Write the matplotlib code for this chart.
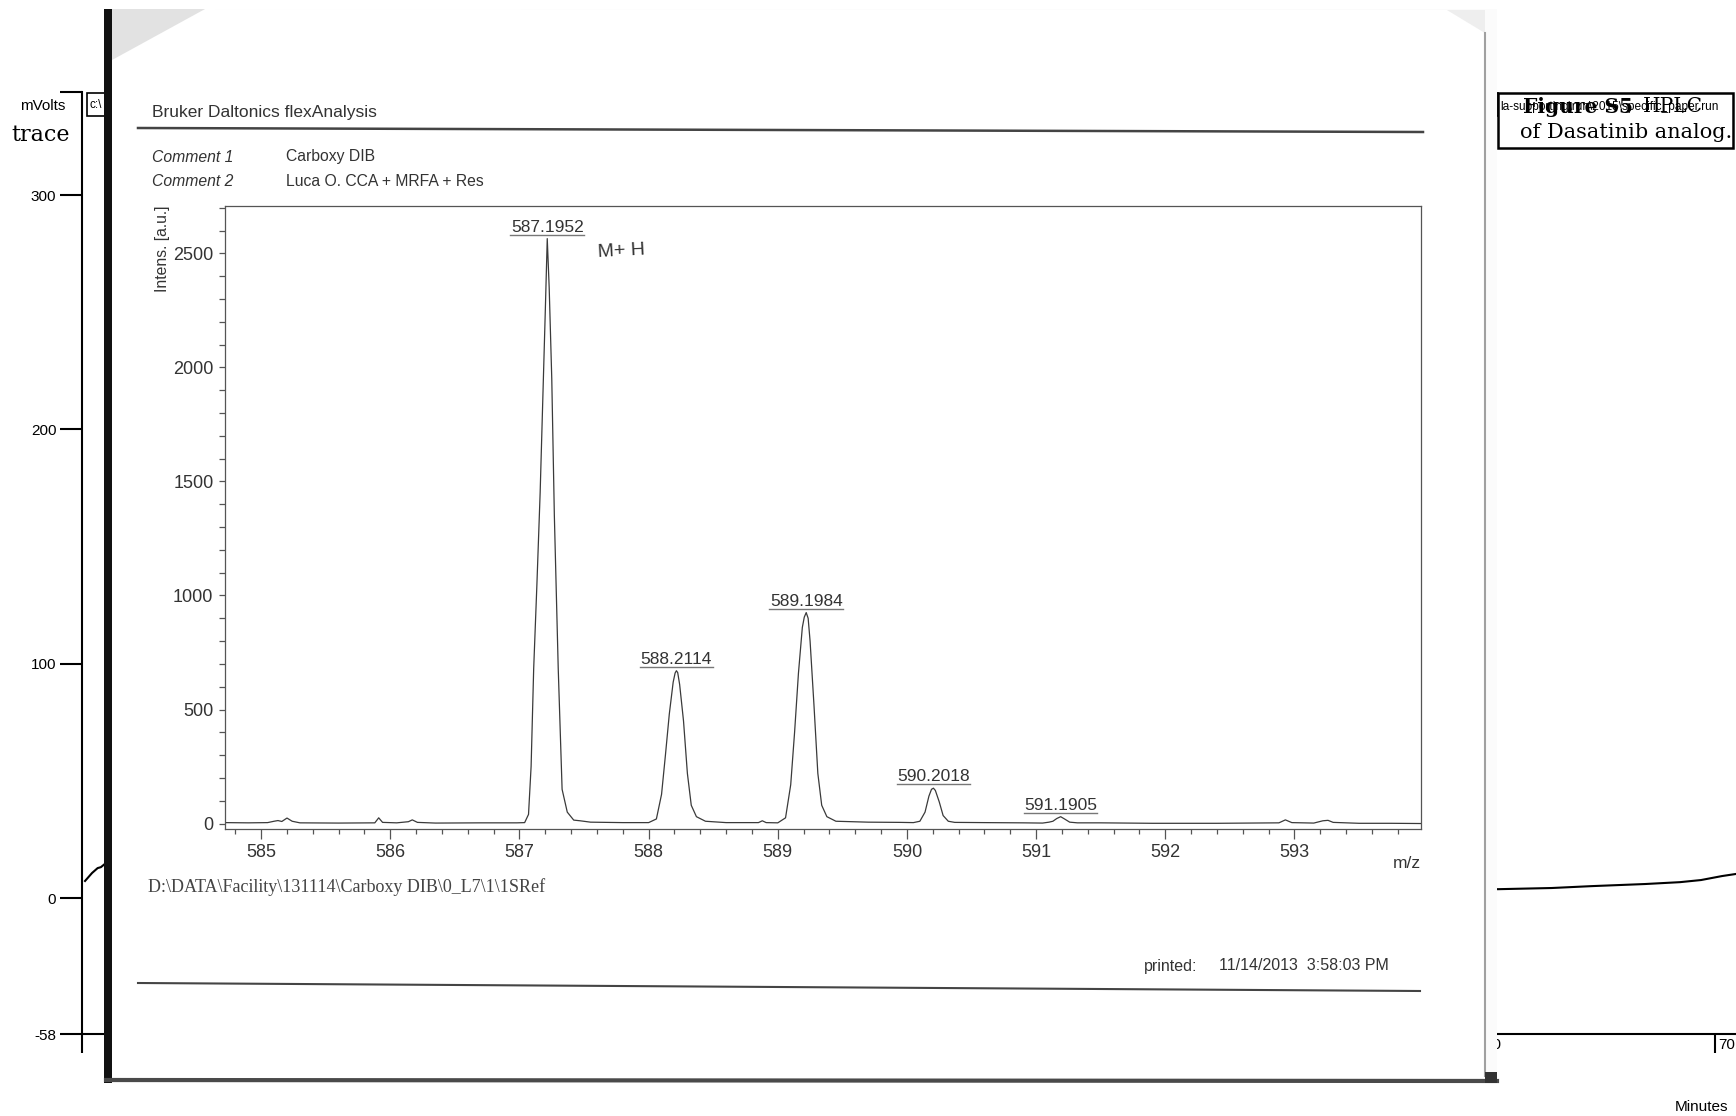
#!/usr/bin/env python3
# Scan of a MALDI spectrum (Bruker flexAnalysis print) lying over an HPLC trace.
import matplotlib
matplotlib.use("Agg")
import matplotlib.pyplot as plt
from matplotlib.patches import Rectangle, Polygon
from matplotlib.ticker import MultipleLocator
from matplotlib.transforms import offset_copy

plt.rcParams["font.family"] = ["Liberation Sans", "DejaVu Sans"]

W, H = 1736, 1116
SERIF = ["DejaVu Serif", "Liberation Serif"]

# --- HPLC trace (background chart) ---
HPLC_T = [0.13, 0.43, 0.67, 0.81, 1.03, 2.0,
          60.7, 63.0, 64.7, 67.0, 68.5, 69.4, 70.3, 70.9]
HPLC_MV = [7.3, 10.7, 12.8, 13.2, 15.0, 16.0,
           3.8, 4.3, 5.1, 6.0, 6.8, 7.7, 9.4, 10.3]
HPLC_YTICKS = [-58, 0, 100, 200, 300, 344]
HPLC_YLABELS = ["-58", "0", "100", "200", "300", ""]
HPLC_XTICKS = [0, 10, 20, 30, 40, 50, 60, 70]

# --- mass spectrum ---
MZ = [584.72, 584.90, 585.05, 585.10, 585.13, 585.16, 585.20, 585.24, 585.30, 585.60,
      585.88, 585.91, 585.94, 586.05, 586.14, 586.17, 586.21, 586.35, 586.70, 586.98,
      587.04, 587.07, 587.09, 587.11, 587.135, 587.16, 587.18, 587.20, 587.215, 587.23,
      587.25, 587.27, 587.30, 587.33, 587.37, 587.42, 587.47, 587.55, 587.80,
      588.00, 588.06, 588.10, 588.13, 588.16, 588.19, 588.205, 588.215, 588.225, 588.24,
      588.27, 588.30, 588.33, 588.37, 588.44, 588.60, 588.85, 588.88, 588.91,
      589.00, 589.06, 589.10, 589.13, 589.16, 589.19, 589.205, 589.22, 589.235, 589.25,
      589.28, 589.31, 589.34, 589.38, 589.45, 589.70, 589.95,
      590.05, 590.10, 590.14, 590.17, 590.19, 590.205, 590.22, 590.25, 590.28, 590.32,
      590.37, 590.60, 590.90,
      591.05, 591.10, 591.13, 591.16, 591.19, 591.22, 591.26, 591.32, 591.50, 591.90,
      592.40, 592.88, 592.93, 592.98, 593.15, 593.22, 593.26, 593.30, 593.50, 593.75, 593.98]
INTENS = [4, 3, 4, 10, 13, 9, 24, 10, 3, 2,
          3, 25, 5, 3, 8, 16, 5, 2, 3, 3,
          4, 40, 250, 680, 1050, 1450, 1850, 2250, 2565, 2350,
          1950, 1350, 680, 150, 50, 15, 12, 6, 4,
          4, 20, 128, 300, 480, 620, 660, 670, 662, 610,
          450, 220, 80, 30, 10, 4, 4, 12, 4,
          3, 25, 170, 400, 660, 860, 905, 925, 900, 800,
          520, 220, 80, 30, 10, 6, 5,
          4, 10, 50, 120, 150, 155, 145, 95, 35, 10,
          5, 4, 3,
          2, 6, 10, 22, 30, 20, 6, 3, 3, 1,
          1, 3, 16, 4, 2, 12, 14, 5, 1, 1, 0]
PEAK_LABELS = ["587.1952", "588.2114", "589.1984", "590.2018", "591.1905"]
PEAK_POS = [587.215, 588.215, 589.22, 590.205, 591.19]
PEAK_TOP = [2565, 670, 925, 155, 30]

fig = plt.figure(figsize=(W / 100, H / 100), dpi=100)

# HPLC axes
ax_h = fig.add_axes([82 / W, 1 - 1034 / H, (W - 82) / W, (1034 - 92) / H])
ax_h.plot(HPLC_T, HPLC_MV, color="black", lw=1.5)
ax_h.set_xlim(0, 70.9)
ax_h.set_ylim(-58, 344)
for s in ["top", "right"]:
    ax_h.spines[s].set_visible(False)
for s in ["left", "bottom"]:
    ax_h.spines[s].set_linewidth(1.5)
ax_h.set_yticks(HPLC_YTICKS)
ax_h.set_yticklabels(HPLC_YLABELS)
ax_h.set_xticks(HPLC_XTICKS)
ax_h.set_xticklabels([])
ax_h.tick_params(axis="y", direction="out", length=15.5, width=1.5, pad=3, labelsize=11)
ax_h.tick_params(axis="x", direction="out", length=13.5, width=1.5)
tr_lab = offset_copy(ax_h.transData, fig=fig, x=3, y=-4, units="dots")
for t in HPLC_XTICKS[1:]:
    ax_h.text(t, -58, str(t), transform=tr_lab, ha="left", va="top",
              fontsize=11, clip_on=False)

# overlay in pixel coordinates: the scanned sheet and printed texts
ax_o = fig.add_axes([0, 0, 1, 1])
ax_o.set_xlim(0, W)
ax_o.set_ylim(H, 0)
ax_o.axis("off")

ax_o.add_patch(Rectangle((87, 93), 1411, 23, fill=False, ec="black", lw=1.2, zorder=1))
ax_o.text(89, 105, "c:\\", fontsize=8.5, va="center", zorder=1)

ax_o.add_patch(Rectangle((106, 9), 1391, 1074, fc="#fbfbfb", ec="none", zorder=2))
ax_o.add_patch(Polygon([(112, 60), (205, 9), (1447, 10), (1485, 33), (1485, 1078), (112, 1078)],
                       closed=True, fc="white", ec="none", zorder=3))
ax_o.add_patch(Polygon([(112, 9), (205, 9), (112, 60)], closed=True,
                       fc="#e2e2e2", ec="none", zorder=3))
ax_o.add_patch(Polygon([(1447, 10), (1485, 33), (1485, 10)], closed=True,
                       fc="#eeeeee", ec="none", zorder=3))
ax_o.add_patch(Rectangle((104, 9), 8, 1074, fc="#111111", ec="none", zorder=4))
ax_o.plot([106, 1497], [1080, 1081], color="#4a4a4a", lw=3, zorder=4)
ax_o.plot([1485, 1485], [33, 1076], color="#a0a0a0", lw=1.5, zorder=4)
ax_o.add_patch(Rectangle((1485, 1072), 12, 11, fc="#333333", ec="none", zorder=4))

# printed header / footer of the sheet
ax_o.text(152, 112, "Bruker Daltonics flexAnalysis", fontsize=12.5, color="#333",
          va="center", zorder=5)
ax_o.plot([138, 1423], [128, 132], color="#444", lw=1.8, zorder=5)
ax_o.text(152, 157, "Comment 1", fontsize=11.3, style="italic", color="#333", va="center", zorder=5)
ax_o.text(286, 157, "Carboxy DIB", fontsize=11.3, color="#333", va="center", zorder=5)
ax_o.text(152, 182, "Comment 2", fontsize=11.3, style="italic", color="#333", va="center", zorder=5)
ax_o.text(286, 182, "Luca O. CCA + MRFA + Res", fontsize=11.3, color="#333", va="center", zorder=5)
ax_o.text(162, 205, "Intens. [a.u.]", fontsize=11.3, color="#333", rotation=90,
          ha="center", va="top", zorder=5)
ax_o.text(1421, 864, "m/z", fontsize=12.5, color="#333", ha="right", va="center", zorder=5)
ax_o.text(148, 887, "D:\\DATA\\Facility\\131114\\Carboxy DIB\\0_L7\\1\\1SRef",
          family=["Liberation Serif", "DejaVu Serif"], fontsize=13, color="#444",
          va="center", zorder=5)
ax_o.text(1144, 966, "printed:", fontsize=11.5, color="#333", va="center", zorder=5)
ax_o.text(1219, 966, "11/14/2013  3:58:03 PM", fontsize=11.5, color="#333", va="center", zorder=5)
ax_o.plot([138, 1420], [983, 991], color="#444", lw=1.5, zorder=5)

# HPLC labels around the sheet
ax_o.text(20, 106, "mVolts", fontsize=11, va="center", zorder=5)
ax_o.text(11, 135, "trace", family=SERIF, fontsize=16, va="center", zorder=5)
ax_o.text(1728, 1107, "Minutes", fontsize=11, ha="right", va="center", zorder=5)
ax_o.add_patch(Rectangle((1498, 93), 235, 55, fc="white", ec="black", lw=1.8, zorder=6))
ax_o.text(1500, 107, "la-supporting\\run\\2015\\specific_paper.run", fontsize=8.6,
          va="center", zorder=7)
ax_o.text(1523, 107, "Figure S5", family=SERIF, fontsize=14.5, weight="bold",
          va="center", zorder=8)
ax_o.text(1643, 107, "HPLC", family=SERIF, fontsize=14.5, va="center", zorder=8)
ax_o.text(1732, 133, "of Dasatinib analog.", family=SERIF, fontsize=15,
          ha="right", va="center", zorder=8)

# mass spectrum axes
ax_s = fig.add_axes([225 / W, 1 - 829 / H, (1421 - 225) / W, (829 - 206) / H])
ax_s.set_facecolor("none")
ax_s.plot(MZ, INTENS, color="#3a3a3a", lw=0.9)
ax_s.set_xlim(584.72, 593.98)
ax_s.set_ylim(-24, 2708)
ax_s.set_xticks(range(585, 594))
ax_s.xaxis.set_minor_locator(MultipleLocator(0.2))
ax_s.set_yticks(range(0, 2501, 500))
ax_s.yaxis.set_minor_locator(MultipleLocator(100))
for s in ax_s.spines.values():
    s.set_color("#555")
    s.set_linewidth(0.9)
ax_s.tick_params(axis="x", which="major", direction="out", length=7, width=0.9,
                 color="#555", labelcolor="#333", labelsize=13, pad=3.5)
ax_s.tick_params(axis="x", which="minor", direction="out", length=3.6, width=0.9, color="#555")
ax_s.tick_params(axis="y", which="both", direction="out", length=4.3, width=0.9,
                 color="#555", labelcolor="#333", labelsize=13, pad=4)

tr_line = offset_copy(ax_s.transData, fig=fig, y=4, units="dots")
tr_text = offset_copy(ax_s.transData, fig=fig, y=7, units="dots")
for lab, pos, top in zip(PEAK_LABELS, PEAK_POS, PEAK_TOP):
    ax_s.plot([pos - 0.285, pos + 0.285], [top, top], transform=tr_line,
              color="#777", lw=1, clip_on=False)
    ax_s.text(pos, top, lab, transform=tr_text, ha="center", va="baseline",
              fontsize=12.5, color="#333", clip_on=False)

# handwritten note next to the main peak
ax_s.text(587.60, 2510, "M+ H", fontsize=14, color="#333", va="center", rotation=3)

fig.savefig("out.png", dpi=100)
